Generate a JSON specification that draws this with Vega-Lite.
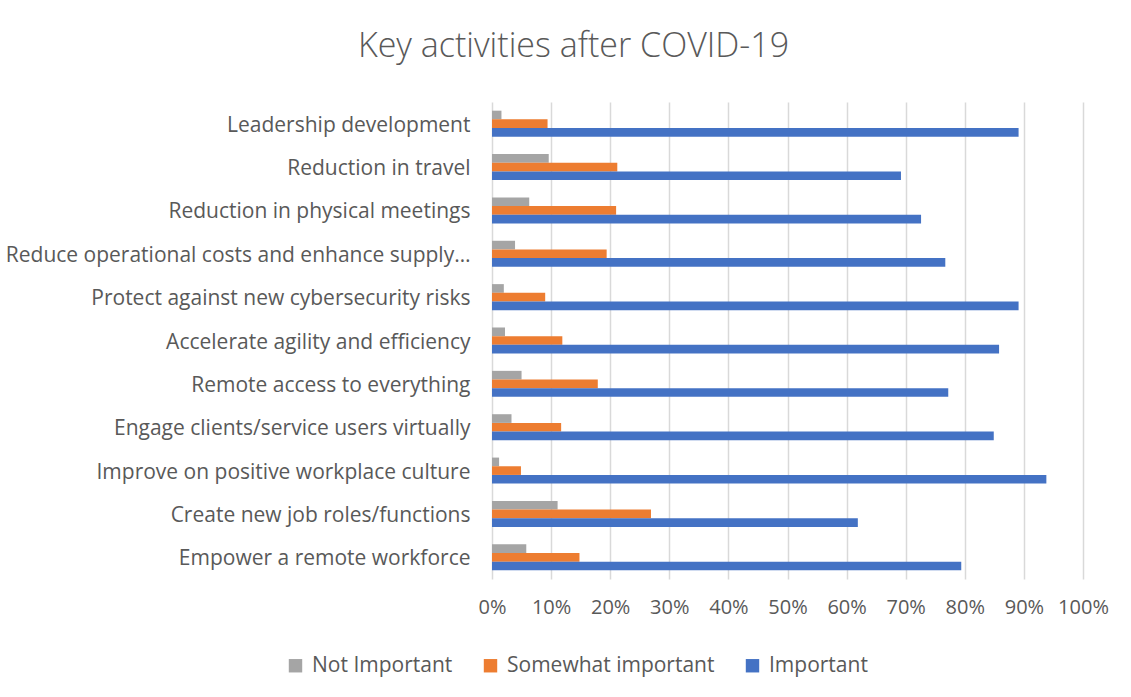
{
  "$schema": "https://vega.github.io/schema/vega-lite/v6.json",
  "autosize": "none",
  "width": 591,
  "height": 477,
  "padding": {"left": 492, "top": 102, "right": 48, "bottom": 118},
  "background": "white",
  "title": {
    "text": "Key activities after COVID-19",
    "font": "Open Sans",
    "fontWeight": 300,
    "fontSize": 34,
    "color": "#595959",
    "anchor": "middle",
    "dx": -214,
    "offset": 38
  },
  "data": {
    "values": [
      {"activity": "Leadership development", "series": "Not Important", "value": 0.016},
      {"activity": "Leadership development", "series": "Somewhat important", "value": 0.094},
      {"activity": "Leadership development", "series": "Important", "value": 0.891},
      {"activity": "Reduction in travel", "series": "Not Important", "value": 0.096},
      {"activity": "Reduction in travel", "series": "Somewhat important", "value": 0.212},
      {"activity": "Reduction in travel", "series": "Important", "value": 0.692},
      {"activity": "Reduction in physical meetings", "series": "Not Important", "value": 0.063},
      {"activity": "Reduction in physical meetings", "series": "Somewhat important", "value": 0.21},
      {"activity": "Reduction in physical meetings", "series": "Important", "value": 0.726},
      {"activity": "Reduce operational costs and enhance supply chains", "series": "Not Important", "value": 0.039},
      {"activity": "Reduce operational costs and enhance supply chains", "series": "Somewhat important", "value": 0.194},
      {"activity": "Reduce operational costs and enhance supply chains", "series": "Important", "value": 0.767},
      {"activity": "Protect against new cybersecurity risks", "series": "Not Important", "value": 0.02},
      {"activity": "Protect against new cybersecurity risks", "series": "Somewhat important", "value": 0.09},
      {"activity": "Protect against new cybersecurity risks", "series": "Important", "value": 0.891},
      {"activity": "Accelerate agility and efficiency", "series": "Not Important", "value": 0.022},
      {"activity": "Accelerate agility and efficiency", "series": "Somewhat important", "value": 0.119},
      {"activity": "Accelerate agility and efficiency", "series": "Important", "value": 0.858},
      {"activity": "Remote access to everything", "series": "Not Important", "value": 0.05},
      {"activity": "Remote access to everything", "series": "Somewhat important", "value": 0.179},
      {"activity": "Remote access to everything", "series": "Important", "value": 0.772},
      {"activity": "Engage clients/service users virtually", "series": "Not Important", "value": 0.033},
      {"activity": "Engage clients/service users virtually", "series": "Somewhat important", "value": 0.117},
      {"activity": "Engage clients/service users virtually", "series": "Important", "value": 0.849},
      {"activity": "Improve on positive workplace culture", "series": "Not Important", "value": 0.012},
      {"activity": "Improve on positive workplace culture", "series": "Somewhat important", "value": 0.049},
      {"activity": "Improve on positive workplace culture", "series": "Important", "value": 0.938},
      {"activity": "Create new job roles/functions", "series": "Not Important", "value": 0.111},
      {"activity": "Create new job roles/functions", "series": "Somewhat important", "value": 0.269},
      {"activity": "Create new job roles/functions", "series": "Important", "value": 0.619},
      {"activity": "Empower a remote workforce", "series": "Not Important", "value": 0.058},
      {"activity": "Empower a remote workforce", "series": "Somewhat important", "value": 0.148},
      {"activity": "Empower a remote workforce", "series": "Important", "value": 0.794}
    ]
  },
  "mark": {"type": "bar", "cornerRadius": 0},
  "encoding": {
    "y": {
      "field": "activity",
      "type": "nominal",
      "sort": null,
      "title": null,
      "scale": {"paddingInner": 0.4, "paddingOuter": 0.2},
      "axis": {
        "ticks": false,
        "domain": false,
        "grid": false,
        "labelPadding": 22,
        "labelOffset": 2,
        "labelFont": "Open Sans",
        "labelFontSize": 21,
        "labelColor": "#595959",
        "labelLimit": 466
      }
    },
    "yOffset": {
      "field": "series",
      "type": "nominal",
      "sort": ["Not Important", "Somewhat important", "Important"],
      "scale": {"paddingInner": 0, "paddingOuter": 0}
    },
    "x": {
      "field": "value",
      "type": "quantitative",
      "title": null,
      "scale": {"domain": [0, 1], "nice": false},
      "axis": {
        "format": ".0%",
        "values": [0, 0.1, 0.2, 0.3, 0.4, 0.5, 0.6, 0.7, 0.8, 0.9, 1],
        "labelOverlap": false,
        "labelFlush": false,
        "ticks": false,
        "domain": false,
        "gridColor": "#D9D9D9",
        "gridWidth": 1.5,
        "labelPadding": 18,
        "labelFont": "Open Sans",
        "labelFontSize": 20,
        "labelColor": "#595959"
      }
    },
    "color": {
      "field": "series",
      "type": "nominal",
      "sort": ["Not Important", "Somewhat important", "Important"],
      "scale": {
        "domain": ["Not Important", "Somewhat important", "Important"],
        "range": ["#A5A5A5", "#ED7D31", "#4472C4"]
      },
      "legend": {
        "title": null,
        "orient": "none",
        "direction": "horizontal",
        "legendX": -207,
        "legendY": 553,
        "symbolType": "square",
        "symbolSize": 180,
        "symbolStrokeWidth": 0,
        "labelFont": "Open Sans",
        "labelFontSize": 21,
        "labelColor": "#595959",
        "labelOffset": 6,
        "labelLimit": 400,
        "columnPadding": 27
      }
    }
  },
  "config": {
    "view": {"stroke": null}
  }
}
